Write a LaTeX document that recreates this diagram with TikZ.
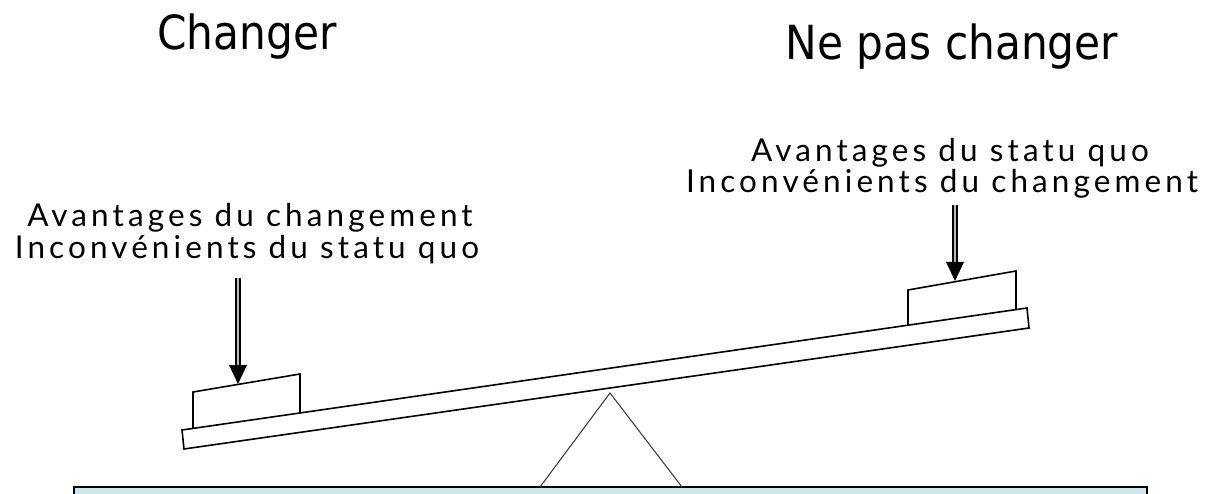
\documentclass[tikz,border=0pt]{standalone}
\usepackage{fontspec}
\newfontfamily\titlefont{DejaVu Sans Condensed}
\newfontfamily\labelfont[LetterSpace=13]{Lato}
\definecolor{basefill}{HTML}{CDE6E6}
\definecolor{baseline}{HTML}{3A4646}
\begin{document}
\begin{tikzpicture}[x=1pt,y=1pt,
  title/.style={anchor=base,inner sep=0pt,font=\titlefont\fontsize{47}{52}\selectfont},
  lbl/.style={anchor=base,inner sep=0pt,font=\labelfont\fontsize{31.5}{35}\selectfont},
  outline/.style={draw=black,line width=1.6pt,line join=miter},
  shaft/.style={draw=black,line width=1.8pt,double=gray!55,double distance=2pt}]
\useasboundingbox (0,0) rectangle (1220,493);
% base
\fill[basefill] (74,6) rectangle (1147,-20);
\draw[baseline,line width=1.6pt] (74,-20) -- (74,6) -- (1147,6) -- (1147,-20);
% fulcrum
\draw[line width=1.1pt,black!75] (540,6) -- (610,100) -- (682,6);
% plank
\draw[outline,fill=white] (182,63) -- (1027,185) -- (1029,165) -- (184,44) -- cycle;
% blocks
\draw[outline] (193,65) -- (193,101) -- (300,119) -- (300,80);
\draw[outline] (908,168) -- (908,203) -- (1016,222) -- (1016,184);
% titles
\node[title] (t1) at (247,443) {Changer};
\node[title] (t2) at (952,433) {Ne pas changer};
% labels
\node[lbl] (l1) at (250,266) {Avantages du changement};
\node[lbl] (l2) at (247,234) {Inconvénients du statu quo};
\node[lbl] (r1) at (950,331) {Avantages du statu quo};
\node[lbl] (r2) at (942,300) {Inconvénients du changement};
% arrows
\coordinate (la0) at (238,215);
\coordinate (la1) at (238,109);
\coordinate (ra0) at (955,288);
\coordinate (ra1) at (955,212);
\draw[shaft] (la0) -- ([yshift=14]la1);
\fill (la1) -- ++(-9,19) -- ++(18,0) -- cycle;
\draw[shaft] (ra0) -- ([yshift=14]ra1);
\fill (ra1) -- ++(-9,19) -- ++(18,0) -- cycle;
\end{tikzpicture}
\end{document}
